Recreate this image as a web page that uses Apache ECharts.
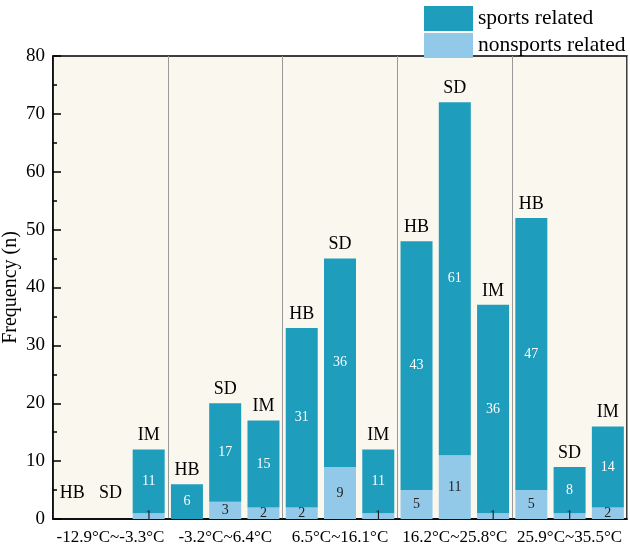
<!DOCTYPE html>
<html>
<head>
<meta charset="utf-8">
<script src="https://cdn.jsdelivr.net/npm/echarts@6/dist/echarts.min.js"></script>
<style>
  html, body { margin: 0; padding: 0; background: #fff; }
  #chart { width: 630px; height: 546px; }
</style>
</head>
<body>
<div id="chart"></div>
<script>
// temperature groups, each with HB / SD / IM
const groups = ['-12.9°C~-3.3°C', '-3.2°C~6.4°C', '6.5°C~16.1°C', '16.2°C~25.8°C', '25.9°C~35.5°C'];
const kinds = ['HB', 'SD', 'IM'];
const sports = [0, 0, 11, 6, 17, 15, 31, 36, 11, 43, 61, 36, 47, 8, 14];
const nonsports = [0, 0, 1, 0, 3, 2, 2, 9, 1, 5, 11, 1, 5, 1, 2];

const font = 'Liberation Serif';
const teal = '#1f9dbc';
const light = '#93c9e8';

const cats = [];
groups.forEach(g => kinds.forEach(k => cats.push(k)));

// empty bars get their name lifted a bit off the axis
const tops = cats.map((k, i) => {
  const item = { value: 0 };
  if (sports[i] + nonsports[i] === 0) item.label = { offset: [0, -12] };
  return item;
});

const valueLabel = color => ({
  show: true,
  position: 'inside',
  color: color,
  fontFamily: font,
  fontSize: 14,
  formatter: p => (p.value ? p.value : '')
});

const option = {
  animation: false,
  legend: {
    orient: 'vertical',
    left: 419,
    top: 1,
    itemWidth: 49,
    itemHeight: 25,
    itemGap: 2,
    icon: 'rect',
    textStyle: { fontFamily: font, fontSize: 21.5, color: '#000' },
    data: ['sports related', 'nonsports related']
  },
  grid: {
    left: 53,
    right: 3,
    top: 56,
    bottom: 27,
    outerBoundsMode: 'none',
    containLabel: false,
    show: true,
    backgroundColor: '#faf7ee',
    borderColor: '#000',
    borderWidth: 1.5
  },
  xAxis: [{
    type: 'category',
    data: cats,
    axisLine: { lineStyle: { color: '#000', width: 1.5 } },
    axisTick: { show: false },
    axisLabel: { show: false }
  }, {
    type: 'category',
    position: 'bottom',
    data: groups,
    axisLine: { show: false },
    axisTick: { show: false },
    axisLabel: { interval: 0, fontFamily: font, fontSize: 17, color: '#000', margin: 10 },
    splitLine: { show: true, interval: 0, lineStyle: { color: '#999', width: 1 } }
  }],
  yAxis: {
    type: 'value',
    min: 0,
    max: 80,
    interval: 10,
    name: 'Frequency (n)',
    nameLocation: 'middle',
    nameGap: 32,
    nameMoveOverlap: false,
    nameTextStyle: { fontFamily: font, fontSize: 20, color: '#000' },
    axisLine: { show: true, lineStyle: { color: '#000', width: 1.5 } },
    axisTick: { show: true, inside: true, length: 8, lineStyle: { color: '#000', width: 1.5 } },
    minorTick: { show: true, splitNumber: 2, length: 4, lineStyle: { color: '#000', width: 1.5 } },
    axisLabel: { fontFamily: font, fontSize: 19, color: '#000', margin: 8 },
    splitLine: { show: false }
  },
  series: [{
    name: 'nonsports related',
    type: 'bar',
    stack: 'n',
    barWidth: 32,
    itemStyle: { color: light },
    label: valueLabel('#222'),
    data: nonsports
  }, {
    name: 'sports related',
    type: 'bar',
    stack: 'n',
    barWidth: 32,
    itemStyle: { color: teal },
    label: valueLabel('#fff'),
    data: sports
  }, {
    name: 'kind',
    type: 'bar',
    stack: 'n',
    barWidth: 32,
    itemStyle: { color: 'transparent' },
    label: {
      show: true,
      position: 'top',
      distance: 5,
      fontFamily: font,
      fontSize: 18,
      color: '#000',
      formatter: p => p.name
    },
    data: tops
  }]
};

const chart = echarts.init(document.getElementById('chart'));
chart.setOption(option);
</script>
</body>
</html>
